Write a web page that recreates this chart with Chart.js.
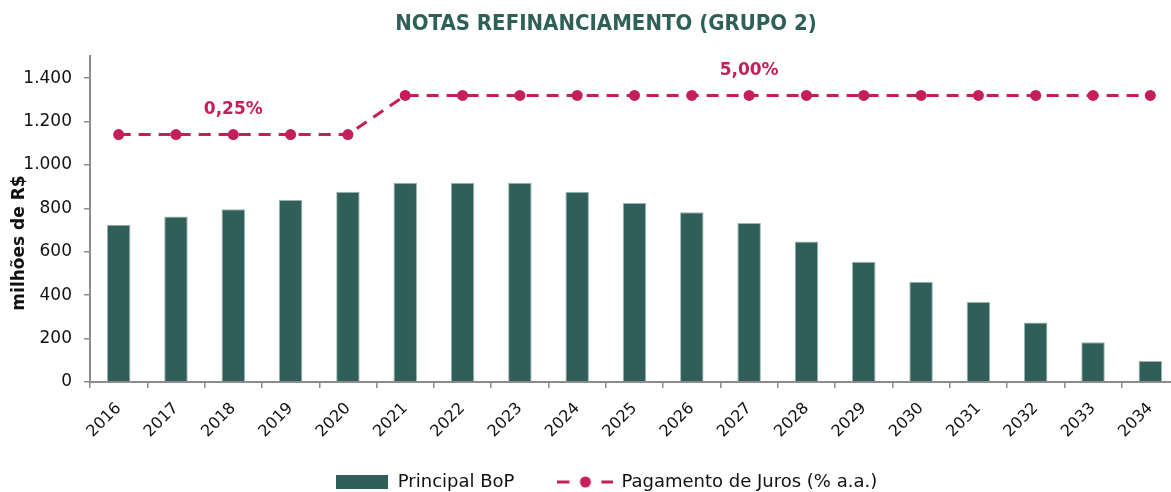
<!DOCTYPE html>
<html>
<head>
<meta charset="utf-8">
<script src="https://cdn.jsdelivr.net/npm/chart.js@4/dist/chart.umd.min.js"></script>
<style>
  html, body { margin: 0; padding: 0; background: #fff; overflow: hidden; }
  canvas { display: block; }
</style>
</head>
<body>
<canvas id="chart" width="1212" height="492"></canvas>
<script>
'use strict';

const years = ['2016', '2017', '2018', '2019', '2020', '2021', '2022', '2023', '2024', '2025',
    '2026', '2027', '2028', '2029', '2030', '2031', '2032', '2033', '2034'];
const principal = [725, 762, 796, 839, 876, 918, 918, 918, 876, 825, 782, 733, 647, 554, 462, 368, 274, 183, 97];
const juros = [0.25, 0.25, 0.25, 0.25, 0.25, 5, 5, 5, 5, 5, 5, 5, 5, 5, 5, 5, 5, 5, 5];
const rateLabels = ['0,25%', '5,00%'];
const rateLabelIndex = [2, 11];
const yTickMax = 1400;
const yTickStep = 200;

const BAR = '#2f5f58';
const LINE = '#c41f5b';
const FONT = '"DejaVu Sans", sans-serif';
const FONT_C = '"DejaVu Sans Condensed", "DejaVu Sans", sans-serif';

function fmt(v) {
    return String(v).replace(/\B(?=(\d{3})+(?!\d))/g, '.');
}

// legend swatches
function swatch(w, h, draw) {
    const c = document.createElement('canvas');
    c.width = w;
    c.height = h;
    draw(c.getContext('2d'));
    return c;
}
const barSwatch = swatch(52, 14, (ctx) => {
    ctx.fillStyle = BAR;
    ctx.fillRect(0, 0, 52, 14);
});
const lineSwatch = swatch(56, 14, (ctx) => {
    ctx.strokeStyle = LINE;
    ctx.lineWidth = 3;
    ctx.beginPath();
    ctx.moveTo(0, 7); ctx.lineTo(12, 7);
    ctx.moveTo(44, 7); ctx.lineTo(56, 7);
    ctx.stroke();
    ctx.fillStyle = LINE;
    ctx.beginPath();
    ctx.arc(28, 7, 5.5, 0, Math.PI * 2);
    ctx.fill();
});

// rate labels over the line + y axis title (placed a bit lower than chart.js would)
const extraText = {
    id: 'extraText',
    beforeDraw(chart) {
        // x labels run into the legend strip, don't let the scale clip them
        chart.scales.x.bottom = chart.height;
    },
    afterDraw(chart) {
        const ctx = chart.ctx;
        const pts = chart.getDatasetMeta(1).data;
        ctx.save();
        ctx.textAlign = 'center';
        ctx.textBaseline = 'middle';
        ctx.fillStyle = LINE;
        ctx.font = 'bold 17px ' + FONT;
        rateLabelIndex.forEach((idx, i) => {
            ctx.fillText(rateLabels[i], pts[idx].x, pts[idx].y - 25);
        });

        ctx.translate(20, 243);
        ctx.rotate(-Math.PI / 2);
        ctx.fillStyle = '#111';
        ctx.font = 'bold 17px ' + FONT;
        ctx.fillText('milhões de R$', 0, 0);
        ctx.restore();
    }
};

new Chart(document.getElementById('chart'), {
    data: {
        labels: years,
        datasets: [
            {
                type: 'bar',
                label: 'Principal BoP',
                data: principal,
                backgroundColor: BAR,
                borderColor: '#9ab5b0',
                borderWidth: { top: 1, left: 1, right: 1, bottom: 0 },
                borderSkipped: 'bottom',
                barPercentage: 0.41,
                categoryPercentage: 1,
                yAxisID: 'y',
                order: 2
            },
            {
                type: 'line',
                label: 'Pagamento de Juros (% a.a.)',
                data: juros,
                borderColor: LINE,
                backgroundColor: LINE,
                borderWidth: 3,
                borderDash: [12, 8],
                pointRadius: 5.5,
                pointBackgroundColor: LINE,
                pointBorderWidth: 0,
                tension: 0,
                yAxisID: 'y2',
                order: 1
            }
        ]
    },
    options: {
        responsive: false,
        animation: false,
        layout: {
            padding: { top: 0, left: 0, right: 0, bottom: -9 }
        },
        scales: {
            x: {
                offset: true,
                grid: {
                    offset: true,
                    drawOnChartArea: false,
                    tickLength: 6,
                    color: '#8c8c8c',
                    lineWidth: 1.5
                },
                border: { color: '#8c8c8c', width: 2 },
                ticks: {
                    color: '#111',
                    font: { family: FONT, size: 16 },
                    minRotation: 45,
                    maxRotation: 45,
                    autoSkip: false,
                    padding: 11
                },
                afterFit(scale) {
                    scale.height = 47;
                }
            },
            y: {
                min: 0,
                max: 1500,
                grid: {
                    drawOnChartArea: false,
                    tickLength: 6,
                    color: '#8c8c8c',
                    lineWidth: 1.5
                },
                border: { color: '#8c8c8c', width: 2 },
                ticks: {
                    stepSize: yTickStep,
                    includeBounds: false,
                    color: '#111',
                    font: { family: FONT, size: 17 },
                    padding: 12,
                    callback: (v) => fmt(v)
                },
                afterBuildTicks(scale) {
                    scale.ticks = scale.ticks.filter((t) => t.value <= yTickMax);
                },
                afterFit(scale) {
                    scale.width = 90;
                }
            },
            // off-screen right column, only there so legend centres like the original
            y2: {
                position: 'right',
                min: -29.84,
                max: 9.75,
                grid: { display: false },
                border: { display: false },
                ticks: { display: false },
                afterFit(scale) {
                    scale.width = 33;
                }
            }
        },
        plugins: {
            title: {
                display: true,
                text: 'NOTAS REFINANCIAMENTO (GRUPO 2)',
                color: '#2e6058',
                font: { family: FONT_C, size: 22, weight: 'bold' },
                padding: { top: 11, bottom: 19 }
            },
            legend: {
                position: 'bottom',
                labels: {
                    usePointStyle: true,
                    pointStyleWidth: 54,
                    boxHeight: 14,
                    padding: 44,
                    color: '#111',
                    font: { family: FONT, size: 18 },
                    generateLabels(chart) {
                        return chart.data.datasets.map((ds, i) => ({
                            text: ds.label,
                            pointStyle: i === 0 ? barSwatch : lineSwatch,
                            fillStyle: 'transparent',
                            strokeStyle: 'transparent',
                            lineWidth: 0,
                            datasetIndex: i,
                            fontColor: '#111'
                        }));
                    }
                }
            },
            tooltip: { enabled: false }
        }
    },
    plugins: [extraText]
});
</script>
</body>
</html>
